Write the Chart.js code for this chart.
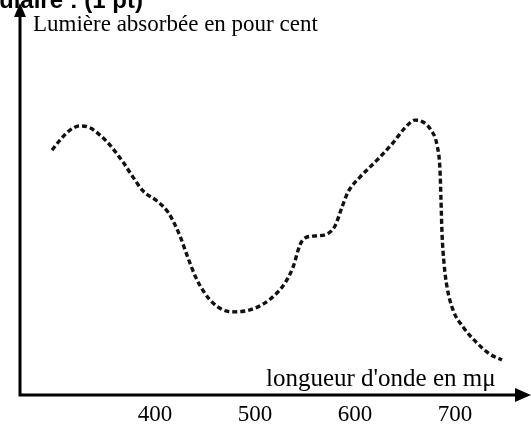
<!DOCTYPE html>
<html>
<head>
<meta charset="utf-8">
<script src="https://cdn.jsdelivr.net/npm/chart.js@4"></script>
<style>
  html, body { margin: 0; padding: 0; background: #fff; }
  #wrap { width: 531px; height: 427px; }
</style>
</head>
<body>
<div id="wrap"><canvas id="spectre" width="531" height="427"></canvas></div>
<script>
// Spectre d'absorption
const longueurs = [297, 305, 315, 325, 335, 345, 355, 368, 378, 388, 402, 413, 420, 425, 433, 442, 455, 468, 480, 495,
  508, 520, 530, 538, 545, 550, 560, 572, 580, 587, 593, 605, 622, 638, 650, 660, 668, 676, 682, 685,
  686, 687, 689, 692, 698, 708, 722, 735, 747];
const absorption = [63.6, 66.2, 68.8, 69.9, 69.4, 67.5, 64.9, 60.5, 56.6, 53.0, 50.4, 47.5, 44.2, 41.3, 35.6, 29.9, 24.7, 22.1, 21.6, 22.1,
  23.6, 26.0, 29.1, 33.2, 39.0, 40.8, 41.3, 41.8, 43.9, 48.8, 52.7, 56.6, 61.0, 65.5, 69.4, 71.4, 70.9, 68.8, 64.9, 58.4,
  50.6, 42.1, 34.3, 28.1, 22.1, 17.7, 13.5, 10.6, 9.1];
const graduations = [400, 500, 600, 700];

const titreY = 'Lumière absorbée en pour cent';
const titreX = "longueur d'onde en mμ";
const entete = 'ulaire : (1 pt)';

// Axes avec flèches, graduations et titres
const axesFleches = {
  id: 'axesFleches',
  afterDraw(chart) {
    const c = chart.ctx;
    const a = chart.chartArea;
    const sx = chart.scales.x;
    const x0 = a.left, y0 = a.bottom;
    c.save();
    c.strokeStyle = '#000';
    c.fillStyle = '#000';
    c.lineWidth = 3;
    c.beginPath();
    c.moveTo(x0, y0);
    c.lineTo(x0, 14);
    c.moveTo(x0 - 1.5, y0);
    c.lineTo(518, y0);
    c.stroke();
    // flèche verticale
    c.beginPath();
    c.moveTo(x0, 3);
    c.lineTo(x0 - 6, 17);
    c.lineTo(x0 + 6, 17);
    c.closePath();
    c.fill();
    // flèche horizontale
    c.beginPath();
    c.moveTo(531, y0);
    c.lineTo(515, y0 - 7);
    c.lineTo(515, y0 + 7);
    c.closePath();
    c.fill();

    c.font = '23px "Liberation Serif", "DejaVu Serif", serif';
    c.textBaseline = 'alphabetic';
    c.textAlign = 'center';
    graduations.forEach(v => {
      c.fillText(String(v), sx.getPixelForValue(v), 421);
    });
    c.textAlign = 'left';
    c.fillText(titreY, 33, 31);
    c.font = '25px "Liberation Serif", "DejaVu Serif", serif';
    c.fillText(titreX, 266, 386);

    c.font = 'bold 24px "Liberation Sans", Arial, sans-serif';
    c.textAlign = 'right';
    c.fillText(entete, 143, 8);
    c.restore();
  }
};

document.addEventListener('DOMContentLoaded', function () {
  const ctx = document.getElementById('spectre').getContext('2d');
  new Chart(ctx, {
    type: 'line',
    data: {
      datasets: [{
        label: 'Absorption',
        data: longueurs.map((l, i) => ({ x: l, y: absorption[i] })),
        borderColor: '#111',
        borderWidth: 3.4,
        borderDash: [5, 3],
        pointRadius: 0,
        cubicInterpolationMode: 'monotone',
        fill: false
      }]
    },
    options: {
      responsive: false,
      animation: false,
      layout: { padding: { left: 20, right: 6, top: 10, bottom: 32 } },
      plugins: { legend: { display: false }, tooltip: { enabled: false } },
      scales: {
        x: { type: 'linear', min: 265, max: 770, display: false },
        y: { min: 0, max: 100, display: false }
      }
    },
    plugins: [axesFleches]
  });
});
</script>
</body>
</html>
